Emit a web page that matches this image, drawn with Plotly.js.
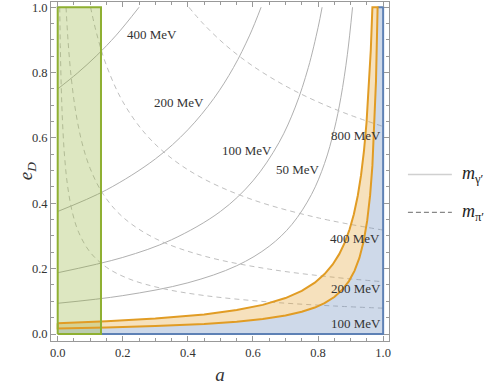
<!DOCTYPE html>
<html>
<head>
<meta charset="utf-8">
<script src="https://cdn.plot.ly/plotly-3.0.1.min.js"></script>
<style>html,body{margin:0;padding:0;background:#fff;}#chart{width:498px;height:390px;}</style>
</head>
<body>
<div id="chart"></div>
<script>
// ---- m_gamma' contours (solid) : a values and e_D values
const solidLabels = ["400 MeV", "200 MeV", "100 MeV", "50 MeV"];
const solid400A = [0, 0.06, 0.12, 0.18, 0.25];
const solid400E = [0.75, 0.7979, 0.8523, 0.9146, 1.0];
const solid200A = [0, 0.15, 0.3, 0.4, 0.48, 0.54, 0.59, 0.625];
const solid200E = [0.375, 0.4412, 0.5357, 0.625, 0.7212, 0.8152, 0.9146, 1.0];
const solid100A = [0, 0.2, 0.35, 0.5, 0.6, 0.68, 0.73, 0.77, 0.8, 0.8125];
const solid100E = [0.1875, 0.2344, 0.2885, 0.375, 0.4688, 0.5859, 0.6944, 0.8152, 0.9375, 1.0];
const solid50A = [0, 0.2, 0.4, 0.55, 0.65, 0.72, 0.78, 0.82, 0.85, 0.87, 0.89, 0.906];
const solid50E = [0.094, 0.1175, 0.1567, 0.2089, 0.2686, 0.3357, 0.4273, 0.5222, 0.6267, 0.7231, 0.8545, 1.0];

// ---- m_pi' contours (dashed)
const dashLabels = ["800 MeV", "400 MeV", "200 MeV", "100 MeV"];
const dash800A = [0.403, 0.45, 0.52, 0.6, 0.7, 0.8, 0.9, 1.0];
const dash800E = [1.0, 0.9466, 0.8806, 0.8198, 0.759, 0.71, 0.6694, 0.635];
const dash400A = [0.101, 0.12, 0.15, 0.2, 0.27, 0.35, 0.45, 0.6, 0.8, 1.0];
const dash400E = [1.0, 0.918, 0.821, 0.711, 0.612, 0.5375, 0.474, 0.4105, 0.3555, 0.318];
const dash200A = [0.0256, 0.032, 0.042, 0.056, 0.075, 0.1, 0.14, 0.2, 0.3, 0.45, 0.65, 0.85, 1.0];
const dash200E = [1.0, 0.8944, 0.7807, 0.6761, 0.5842, 0.506, 0.4276, 0.3578, 0.2921, 0.2385, 0.1985, 0.1735, 0.16];
const dash100A = [0.00624, 0.008, 0.011, 0.015, 0.021, 0.03, 0.045, 0.065, 0.1, 0.15, 0.22, 0.32, 0.45, 0.65, 0.85, 1.0];
const dash100E = [1.0, 0.8832, 0.7532, 0.645, 0.5451, 0.4561, 0.3724, 0.3099, 0.2498, 0.204, 0.1684, 0.1397, 0.1178, 0.098, 0.0857, 0.079];

// ---- orange band boundaries
const upperA = [0, 0.15, 0.3, 0.45, 0.55, 0.63, 0.7, 0.75, 0.79, 0.82, 0.845, 0.865, 0.882, 0.897, 0.91, 0.922, 0.932, 0.941, 0.949, 0.956, 0.962, 0.967];
const upperE = [0.033, 0.0388, 0.0471, 0.06, 0.0733, 0.0892, 0.11, 0.132, 0.1571, 0.1833, 0.2129, 0.2444, 0.2797, 0.3204, 0.3667, 0.4231, 0.4853, 0.5593, 0.6471, 0.75, 0.8684, 1.0];
const lowerA = [0, 0.15, 0.3, 0.45, 0.55, 0.63, 0.7, 0.75, 0.79, 0.82, 0.85, 0.875, 0.895, 0.912, 0.927, 0.94, 0.951, 0.96, 0.967, 0.973, 0.978, 0.983];
const lowerE = [0.017, 0.02, 0.0243, 0.0309, 0.0378, 0.046, 0.0567, 0.068, 0.081, 0.0944, 0.1133, 0.136, 0.1619, 0.1932, 0.2329, 0.2833, 0.3469, 0.425, 0.5152, 0.6296, 0.7727, 1.0];

// ---- blue region corners and green box
const blueCornerA = [0, 1, 1];
const blueCornerE = [0, 0, 1];
const greenBoxA = [0, 0.133, 0.133, 0, 0];
const greenBoxE = [0, 0, 1, 1, 0];

// ---- label positions (a, e_D)
const solidLabelA = [0.289, 0.373, 0.582, 0.737];
const solidLabelE = [0.917, 0.708, 0.563, 0.502];
const dashLabelA = [0.916, 0.913, 0.916, 0.916];
const dashLabelE = [0.606, 0.293, 0.138, 0.033];

const tickVals = [0, 0.2, 0.4, 0.6, 0.8, 1.0];
const tickText = ["0.0", "0.2", "0.4", "0.6", "0.8", "1.0"];

const BLUE = "#5E81B5", ORANGE = "#E19C24", GREEN = "#8FB032";
const SERIF = "Times New Roman, Liberation Serif, DejaVu Serif, serif";

const traces = [];
const solidSets = [[solid400A, solid400E], [solid200A, solid200E], [solid100A, solid100E], [solid50A, solid50E]];
solidSets.forEach((s, i) => traces.push({
  x: s[0], y: s[1], mode: "lines", type: "scatter", name: "m_γ' " + solidLabels[i],
  line: {color: "#b0b0b0", width: 1, shape: "spline", smoothing: 1}, showlegend: false, hoverinfo: "skip"
}));
const dashSets = [[dash800A, dash800E], [dash400A, dash400E], [dash200A, dash200E], [dash100A, dash100E]];
dashSets.forEach((s, i) => traces.push({
  x: s[0], y: s[1], mode: "lines", type: "scatter", name: "m_π' " + dashLabels[i],
  line: {color: "#c0c0c0", width: 1, dash: "5px,4px", shape: "spline", smoothing: 1}, showlegend: false, hoverinfo: "skip"
}));

// blue region (below the lower orange curve)
const blueX = blueCornerA.concat(lowerA.slice().reverse());
const blueY = blueCornerE.concat(lowerE.slice().reverse());
traces.push({x: blueX, y: blueY, type: "scatter", mode: "lines", fill: "toself",
  fillcolor: "rgba(94,129,181,0.3)", line: {width: 0}, showlegend: false, hoverinfo: "skip"});
// orange band
const bandX = upperA.concat(lowerA.slice().reverse());
const bandY = upperE.concat(lowerE.slice().reverse());
traces.push({x: bandX, y: bandY, type: "scatter", mode: "lines", fill: "toself",
  fillcolor: "rgba(225,156,36,0.3)", line: {width: 0}, showlegend: false, hoverinfo: "skip"});
// green box
traces.push({x: greenBoxA, y: greenBoxE, type: "scatter", mode: "lines", fill: "toself",
  fillcolor: "rgba(143,176,50,0.3)", line: {width: 0}, showlegend: false, hoverinfo: "skip"});

// edges
traces.push({x: [lowerA[lowerA.length - 1]].concat(blueCornerA.slice(1).reverse(), [0]),
  y: [1, 1, 0, 0], type: "scatter", mode: "lines",
  line: {color: BLUE, width: 2}, showlegend: false, hoverinfo: "skip"});
traces.push({x: bandX.concat([upperA[0]]), y: bandY.concat([upperE[0]]), type: "scatter", mode: "lines",
  line: {color: ORANGE, width: 2}, showlegend: false, hoverinfo: "skip"});
traces.push({x: greenBoxA, y: greenBoxE, type: "scatter", mode: "lines",
  line: {color: GREEN, width: 2}, showlegend: false, hoverinfo: "skip"});

const annotations = [];
solidLabels.forEach((t, i) => annotations.push({x: solidLabelA[i], y: solidLabelE[i], xref: "x", yref: "y",
  text: t, showarrow: false, font: {family: SERIF, size: 13, color: "#333"}}));
dashLabels.forEach((t, i) => annotations.push({x: dashLabelA[i], y: dashLabelE[i], xref: "x", yref: "y",
  text: t, showarrow: false, font: {family: SERIF, size: 13, color: "#333"}}));
// y-axis title
annotations.push({x: -0.072, y: 0.5, xref: "paper", yref: "paper", xanchor: "center", yanchor: "middle",
  textangle: -90, text: "<i>e</i><sub><i>D</i></sub>", showarrow: false, font: {family: SERIF, size: 19, color: "#333"}});
// legend
annotations.push({x: 1.21, y: 0.4912, xref: "paper", yref: "paper", xanchor: "left", yanchor: "middle",
  text: "<i>m</i><sub>γ′</sub>", showarrow: false, font: {family: SERIF, size: 18, color: "#222"}});
annotations.push({x: 1.21, y: 0.3794, xref: "paper", yref: "paper", xanchor: "left", yanchor: "middle",
  text: "<i>m</i><sub>π′</sub>", showarrow: false, font: {family: SERIF, size: 18, color: "#222"}});
const shapes = [
  {type: "line", xref: "paper", yref: "paper", x0: 1.056, x1: 1.186, y0: 0.4912, y1: 0.4912, line: {color: "#d0d0d0", width: 1.3}},
  {type: "line", xref: "paper", yref: "paper", x0: 1.056, x1: 1.186, y0: 0.3794, y1: 0.3794, line: {color: "#888", width: 1.3, dash: "5px,3px"}}
];

const axisCommon = {
  tickvals: tickVals, ticktext: tickText, ticks: "inside", ticklen: 5, tickwidth: 1, tickcolor: "#999",
  showline: true, linecolor: "#999", linewidth: 1, mirror: "ticks", showgrid: false, zeroline: false,
  tickfont: {family: SERIF, size: 12.5, color: "#333"},
  minor: {dtick: 0.05, tick0: 0, ticks: "inside", ticklen: 3, tickcolor: "#999", showgrid: false}
};

const layout = {
  width: 498, height: 390,
  margin: {l: 51, r: 109, t: 2, b: 49},
  paper_bgcolor: "#fff", plot_bgcolor: "#fff",
  showlegend: false,
  xaxis: Object.assign({}, axisCommon, {range: [-0.0206, 1.018],
    title: {text: "<i>a</i>", font: {family: SERIF, size: 19, color: "#333"}, standoff: 8}}),
  yaxis: Object.assign({}, axisCommon, {range: [-0.0214, 1.016]}),
  annotations: annotations,
  shapes: shapes
};

Plotly.newPlot("chart", traces, layout, {displayModeBar: false, staticPlot: true});
</script>
</body>
</html>
